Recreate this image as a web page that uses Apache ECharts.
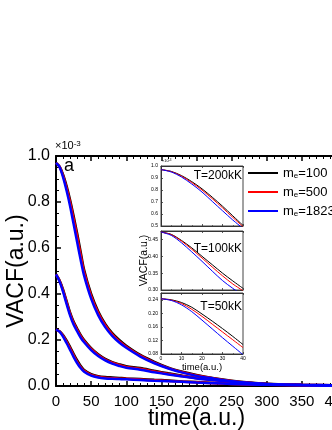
<!DOCTYPE html>
<html><head><meta charset="utf-8">
<script src="https://cdn.jsdelivr.net/npm/echarts@6/dist/echarts.min.js"></script>
<style>html,body{margin:0;padding:0;background:#fff}#c{width:332px;height:430px}</style>
</head><body><div id="c"></div>
<script>
// ---------- data (VACF in units of 1e-3) ----------
const massNames = ['me=100', 'me=500', 'me=1823'];
const lineColors = ['#000000', '#ff0000', '#0000ff'];
const mainXTicks = [0, 50, 100, 150, 200, 250, 300, 350, 400];
const mainYTicks = [0.0, 0.2, 0.4, 0.6, 0.8, 1.0];

const mainTime = [0,5,10,15,20,25,30,35,40,50,60,70,80,90,100,120,140,160,180,200,225,250,275,300,350,400];

// T = 200 kK (top group)
const main200_m100  = [0.970,0.955,0.920,0.870,0.810,0.740,0.665,0.585,0.505,0.400,0.325,0.270,0.230,0.200,0.175,0.135,0.105,0.080,0.062,0.048,0.034,0.023,0.015,0.010,0.005,0.003];
const main200_m500  = [0.970,0.954,0.915,0.862,0.800,0.728,0.652,0.572,0.495,0.392,0.318,0.264,0.225,0.195,0.171,0.132,0.102,0.078,0.060,0.046,0.033,0.022,0.014,0.009,0.005,0.003];
const main200_m1823 = [0.970,0.952,0.908,0.850,0.783,0.705,0.627,0.550,0.480,0.380,0.308,0.256,0.218,0.189,0.166,0.128,0.099,0.076,0.058,0.044,0.032,0.021,0.014,0.009,0.005,0.003];
// T = 100 kK (middle group)
const main100_m100  = [0.485,0.460,0.420,0.370,0.320,0.280,0.250,0.222,0.200,0.165,0.138,0.118,0.104,0.094,0.086,0.078,0.066,0.055,0.045,0.036,0.027,0.019,0.013,0.009,0.004,0.002];
const main100_m500  = [0.485,0.458,0.416,0.365,0.315,0.275,0.245,0.218,0.196,0.161,0.135,0.115,0.101,0.091,0.083,0.075,0.063,0.052,0.043,0.034,0.025,0.018,0.012,0.008,0.004,0.002];
const main100_m1823 = [0.485,0.455,0.410,0.357,0.307,0.267,0.238,0.211,0.190,0.156,0.130,0.111,0.097,0.087,0.079,0.071,0.060,0.050,0.041,0.033,0.025,0.018,0.012,0.008,0.004,0.002];
// T = 50 kK (bottom group)
const main50_m100   = [0.245,0.238,0.222,0.198,0.170,0.140,0.112,0.088,0.070,0.052,0.043,0.039,0.037,0.035,0.033,0.030,0.027,0.024,0.020,0.017,0.013,0.010,0.007,0.005,0.003,0.001];
const main50_m500   = [0.245,0.237,0.219,0.193,0.164,0.134,0.106,0.083,0.066,0.048,0.040,0.036,0.034,0.032,0.031,0.028,0.025,0.022,0.019,0.016,0.012,0.009,0.007,0.005,0.003,0.001];
const main50_m1823  = [0.245,0.236,0.215,0.187,0.157,0.127,0.100,0.078,0.062,0.045,0.037,0.033,0.031,0.030,0.029,0.026,0.023,0.021,0.018,0.015,0.012,0.009,0.007,0.005,0.003,0.001];

// insets (t = 0..40)
const insetTime = [0,5,10,15,20,25,30,35,40];
const inset200_m100  = [0.970,0.955,0.920,0.870,0.810,0.740,0.665,0.585,0.505];
const inset200_m500  = [0.970,0.953,0.915,0.862,0.800,0.728,0.652,0.572,0.495];
const inset200_m1823 = [0.970,0.950,0.908,0.850,0.783,0.705,0.627,0.550,0.480];
const inset100_m100  = [0.472,0.465,0.447,0.425,0.400,0.375,0.350,0.327,0.305];
const inset100_m500  = [0.472,0.464,0.445,0.421,0.395,0.368,0.342,0.318,0.298];
const inset100_m1823 = [0.472,0.462,0.440,0.413,0.385,0.356,0.328,0.305,0.285];
const inset50_m100   = [0.243,0.240,0.232,0.218,0.198,0.177,0.155,0.132,0.108];
const inset50_m500   = [0.243,0.239,0.229,0.212,0.191,0.168,0.145,0.122,0.099];
const inset50_m1823  = [0.243,0.238,0.225,0.205,0.180,0.154,0.128,0.103,0.078];
const insetLabels = ['T=200kK', 'T=100kK', 'T=50kK'];

// ---------- chart ----------
const FONT = 'Liberation Sans, Arial, sans-serif';
const zip = (xs, ys) => xs.map((x, i) => [x, ys[i]]);

const mainGroups = [
  [main200_m100, main200_m500, main200_m1823],
  [main100_m100, main100_m500, main100_m1823],
  [main50_m100, main50_m500, main50_m1823]
];
const insetGroups = [
  [inset200_m100, inset200_m500, inset200_m1823],
  [inset100_m100, inset100_m500, inset100_m1823],
  [inset50_m100, inset50_m500, inset50_m1823]
];

const series = [];
mainGroups.forEach(group => {
  group.forEach((vals, m) => {
    series.push({
      type: 'line', name: massNames[m], xAxisIndex: 0, yAxisIndex: 0,
      data: zip(mainTime, vals), symbol: 'none', smooth: 0.3,
      lineStyle: { width: 2.5, color: lineColors[m] }, itemStyle: { color: lineColors[m] },
      z: 2 + m, silent: true
    });
  });
});
insetGroups.forEach((group, g) => {
  group.forEach((vals, m) => {
    series.push({
      type: 'line', name: massNames[m], xAxisIndex: 2 + 2 * g, yAxisIndex: 1 + g,
      data: zip(insetTime, vals), symbol: 'none', smooth: 0.3,
      lineStyle: { width: 1, color: lineColors[m] }, itemStyle: { color: lineColors[m] },
      z: 12 + m, silent: true
    });
  });
});

const axisCommon = {
  axisLine: { lineStyle: { color: '#000', width: 2 } },
  axisTick: { inside: true, length: 5, lineStyle: { color: '#000', width: 1.5 } },
  minorTick: { show: true, length: 3, lineStyle: { color: '#000', width: 1 } },
  splitLine: { show: false }
};

const insetGrids = [
  { left: 161, top: 166, width: 82, height: 60 },
  { left: 161, top: 231, width: 82, height: 59 },
  { left: 161, top: 293, width: 82, height: 61 }
];
const insetY = [
  { min: 0.5, max: 1.0, interval: 0.1, dec: 1 },
  { min: 0.30, max: 0.475, interval: 0.05, dec: 2 },
  { min: 0.08, max: 0.26, interval: 0.04, dec: 2 }
];

const xAxes = [
  Object.assign({}, axisCommon, {
    type: 'value', gridIndex: 0, position: 'bottom', min: 0, max: 400, interval: 50,
    minorTick: Object.assign({}, axisCommon.minorTick, { splitNumber: 5 }),
    axisLabel: { color: '#000', fontSize: 15, margin: 8, fontFamily: FONT, hideOverlap: false },
    name: 'time(a.u.)', nameLocation: 'middle', nameGap: 21, nameMoveOverlap: false,
    nameTextStyle: { color: '#000', fontSize: 23, fontFamily: FONT }
  }),
  Object.assign({}, axisCommon, {
    type: 'value', gridIndex: 0, position: 'top', min: 0, max: 400, interval: 50,
    minorTick: Object.assign({}, axisCommon.minorTick, { splitNumber: 5 }),
    axisLabel: { show: false }
  })
];
const yAxes = [
  Object.assign({}, axisCommon, {
    type: 'value', gridIndex: 0, min: 0, max: 1.0, interval: 0.2,
    minorTick: Object.assign({}, axisCommon.minorTick, { splitNumber: 4 }),
    axisLabel: { color: '#000', fontSize: 16, margin: 6, fontFamily: FONT, formatter: v => v.toFixed(1) },
    name: 'VACF(a.u.)', nameLocation: 'middle', nameGap: 28, nameMoveOverlap: false,
    nameTextStyle: { color: '#000', fontSize: 23, fontFamily: FONT }
  })
];

const insetAxisLine = { lineStyle: { color: '#333', width: 1 } };
const insetTick = { inside: true, length: 2, lineStyle: { color: '#333', width: 0.8 } };
const insetMinor = { show: true, length: 1, splitNumber: 2, lineStyle: { color: '#333', width: 0.6 } };

insetGrids.forEach((gr, g) => {
  const last = g === 2;
  xAxes.push({
    type: 'value', gridIndex: 1 + g, position: 'bottom', min: 0, max: 40, interval: 10,
    axisLine: insetAxisLine, axisTick: insetTick, minorTick: insetMinor, splitLine: { show: false },
    axisLabel: { show: last, color: '#000', fontSize: 5, margin: 2, fontFamily: FONT },
    name: last ? 'time(a.u.)' : '', nameLocation: 'middle', nameGap: 8, nameMoveOverlap: false,
    nameTextStyle: { color: '#000', fontSize: 9.5, fontFamily: FONT }
  });
  xAxes.push({
    type: 'value', gridIndex: 1 + g, position: 'top', min: 0, max: 40, interval: 10,
    axisLine: insetAxisLine, axisTick: insetTick, minorTick: insetMinor, splitLine: { show: false },
    axisLabel: { show: false }
  });
  const ys = insetY[g];
  yAxes.push({
    type: 'value', gridIndex: 1 + g, min: ys.min, max: ys.max, interval: ys.interval,
    axisLine: insetAxisLine, axisTick: insetTick, minorTick: insetMinor, splitLine: { show: false },
    axisLabel: { color: '#000', fontSize: 5, margin: 3, fontFamily: FONT, showMaxLabel: g === 0,
      formatter: v => v.toFixed(ys.dec) },
    name: g === 1 ? 'VACF(a.u.)' : '', nameLocation: 'middle', nameGap: 11, nameMoveOverlap: false,
    nameTextStyle: { color: '#000', fontSize: 10.5, fontFamily: FONT }
  });
});

const option = {
  animation: false,
  backgroundColor: '#fff',
  textStyle: { fontFamily: FONT },
  grid: [
    { left: 56, top: 156, width: 281, height: 230, outerBoundsMode: 'none', containLabel: false }
  ].concat(insetGrids.map(gr => Object.assign({ show: true, backgroundColor: '#fff', borderColor: '#444', borderWidth: 1, outerBoundsMode: 'none', containLabel: false }, gr))),
  xAxis: xAxes,
  yAxis: yAxes,
  legend: {
    data: massNames, orient: 'vertical', left: 248, top: 166, padding: 0,
    icon: 'rect', itemWidth: 30, itemHeight: 2, itemGap: 5, selectedMode: false,
    formatter: n => 'm{sub|e}=' + n.split('=')[1],
    textStyle: { color: '#000', fontSize: 13, lineHeight: 14, fontFamily: FONT, overflow: 'none',
      rich: { sub: { fontSize: 8, lineHeight: 3, verticalAlign: 'bottom', fontFamily: FONT, color: '#000' } } }
  },
  graphic: [
    { type: 'text', left: 64, top: 157, style: { text: 'a', fontSize: 18, fontFamily: FONT, fill: '#000' } },
    { type: 'text', left: 55, top: 140, style: { text: '×10{sup|-3}', fontSize: 11, fontFamily: FONT, fill: '#000',
        rich: { sup: { fontSize: 8, verticalAlign: 'top', lineHeight: 8, fontFamily: FONT } } } },
    { type: 'text', left: 162, top: 159, style: { text: '×10{sup|-3}', fontSize: 4, fontFamily: FONT, fill: '#000',
        rich: { sup: { fontSize: 3, verticalAlign: 'top', lineHeight: 3, fontFamily: FONT } } } },
    { type: 'text', x: 242, y: 176, style: { text: insetLabels[0], fontSize: 12, fontFamily: FONT, fill: '#000', align: 'right', verticalAlign: 'middle' }, z: 100 },
    { type: 'text', x: 242, y: 249, style: { text: insetLabels[1], fontSize: 12, fontFamily: FONT, fill: '#000', align: 'right', verticalAlign: 'middle' }, z: 100 },
    { type: 'text', x: 242, y: 307, style: { text: insetLabels[2], fontSize: 12, fontFamily: FONT, fill: '#000', align: 'right', verticalAlign: 'middle' }, z: 100 }
  ],
  series: series
};

const chart = echarts.init(document.getElementById('c'), null, { renderer: 'canvas' });
chart.setOption(option);
</script>
</body></html>
